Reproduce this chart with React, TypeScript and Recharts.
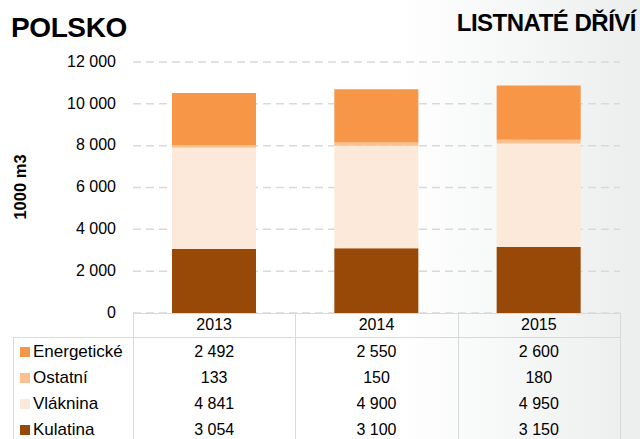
import { BarChart, Bar, XAxis, YAxis, CartesianGrid } from 'recharts';

const years = ['2013', '2014', '2015'];
const kulatina = [3054, 3100, 3150];
const vlaknina = [4841, 4900, 4950];
const ostatni = [133, 150, 180];
const energeticke = [2492, 2550, 2600];
const yTicks = [0, 2000, 4000, 6000, 8000, 10000, 12000];

// table rows top to bottom, stack order is the reverse
const series = [
  { key: 'energeticke', name: 'Energetické', color: '#F79646', values: energeticke },
  { key: 'ostatni', name: 'Ostatní', color: '#FAC090', values: ostatni },
  { key: 'vlaknina', name: 'Vláknina', color: '#FDE9D9', values: vlaknina },
  { key: 'kulatina', name: 'Kulatina', color: '#984807', values: kulatina },
];

const data = years.map((y, i) => ({
  year: y,
  kulatina: kulatina[i],
  vlaknina: vlaknina[i],
  ostatni: ostatni[i],
  energeticke: energeticke[i],
}));

const fmt = (v: number) => String(v).replace(/\B(?=(\d{3})+(?!\d))/g, ' ');

const FONT = '"Liberation Sans", Arial, sans-serif';
const LINE = '#D9D9D9';
const PLOT_L = 133;
const PLOT_R = 620;
const COL_W = (PLOT_R - PLOT_L) / 3;
const TABLE_TOP = 313;
const HEAD_H = 24;
const ROW_H = 26;

export default function App() {
  return (
    <div
      style={{
        position: 'absolute', left: 0, top: 0, width: 640, height: 439, overflow: 'hidden',
        background: 'linear-gradient(to right, #ffffff 0%, #ffffff 62%, #ECEEEE 100%)',
        fontFamily: FONT, color: '#000',
      }}
    >
      <div style={{ position: 'absolute', left: 11, top: 12, fontSize: 28, fontWeight: 'bold', letterSpacing: -0.4 }}>
        POLSKO
      </div>
      <div style={{ position: 'absolute', right: 4, top: 9, fontSize: 24, fontWeight: 'bold', letterSpacing: -0.5 }}>
        LISTNATÉ DŘÍVÍ
      </div>
      <div
        style={{
          position: 'absolute', left: 20, top: 187, fontSize: 16.5, fontWeight: 'bold', whiteSpace: 'nowrap',
          transform: 'translate(-50%, -50%) rotate(-90deg)',
        }}
      >
        1000 m3
      </div>

      <div style={{ position: 'absolute', left: 0, top: 0 }}>
        <BarChart width={640} height={330} data={data} margin={{ top: 62, right: 640 - PLOT_R, bottom: 17, left: 0 }} barSize={84}>
          <CartesianGrid vertical={false} stroke={LINE} strokeWidth={1.5} strokeDasharray="8 5" />
          <XAxis dataKey="year" hide />
          <YAxis
            width={PLOT_L}
            domain={[0, 12000]}
            ticks={yTicks}
            interval={0}
            tickFormatter={fmt}
            axisLine={false}
            tickLine={false}
            tickSize={0}
            tickMargin={17}
            tick={{ fill: '#000', fontSize: 16, fontFamily: FONT, dy: -1 }}
          />
          {series.slice().reverse().map(s => (
            <Bar key={s.key} dataKey={s.key} stackId="a" fill={s.color} isAnimationActive={false} />
          ))}
        </BarChart>
      </div>

      {/* data table */}
      <div style={{ position: 'absolute', left: PLOT_L, top: TABLE_TOP, width: PLOT_R - PLOT_L, height: HEAD_H, borderTop: `1.5px solid ${LINE}` }} />
      <div style={{ position: 'absolute', left: 13, top: TABLE_TOP + HEAD_H, width: PLOT_R - 13, height: 0, borderTop: `1.5px solid ${LINE}` }} />
      <div style={{ position: 'absolute', left: 13, top: TABLE_TOP + HEAD_H, width: 0, height: 200, borderLeft: `1.5px solid ${LINE}` }} />
      {[0, 1, 2, 3].map(i => (
        <div key={i} style={{ position: 'absolute', left: PLOT_L + i * COL_W, top: TABLE_TOP, width: 0, height: 200, borderLeft: `1.5px solid ${LINE}` }} />
      ))}
      {years.map((y, i) => (
        <div
          key={y}
          style={{
            position: 'absolute', left: PLOT_L + i * COL_W, top: TABLE_TOP, width: COL_W, height: HEAD_H,
            lineHeight: `${HEAD_H}px`, textAlign: 'center', fontSize: 16,
          }}
        >
          {y}
        </div>
      ))}
      {series.map((s, r) => (
        <div key={s.key}>
          <div
            style={{
              position: 'absolute', left: 20, top: TABLE_TOP + HEAD_H + r * ROW_H + 2, height: ROW_H,
              display: 'flex', alignItems: 'center', fontSize: 17, whiteSpace: 'nowrap',
            }}
          >
            <span style={{ display: 'inline-block', width: 10, height: 10, background: s.color, marginRight: 3 }} />
            {s.name}
          </div>
          {s.values.map((v, i) => (
            <div
              key={i}
              style={{
                position: 'absolute', left: PLOT_L + i * COL_W, top: TABLE_TOP + HEAD_H + r * ROW_H + 2, width: COL_W,
                height: ROW_H, lineHeight: `${ROW_H}px`, textAlign: 'center', fontSize: 16,
              }}
            >
              {fmt(v)}
            </div>
          ))}
        </div>
      ))}
    </div>
  );
}
